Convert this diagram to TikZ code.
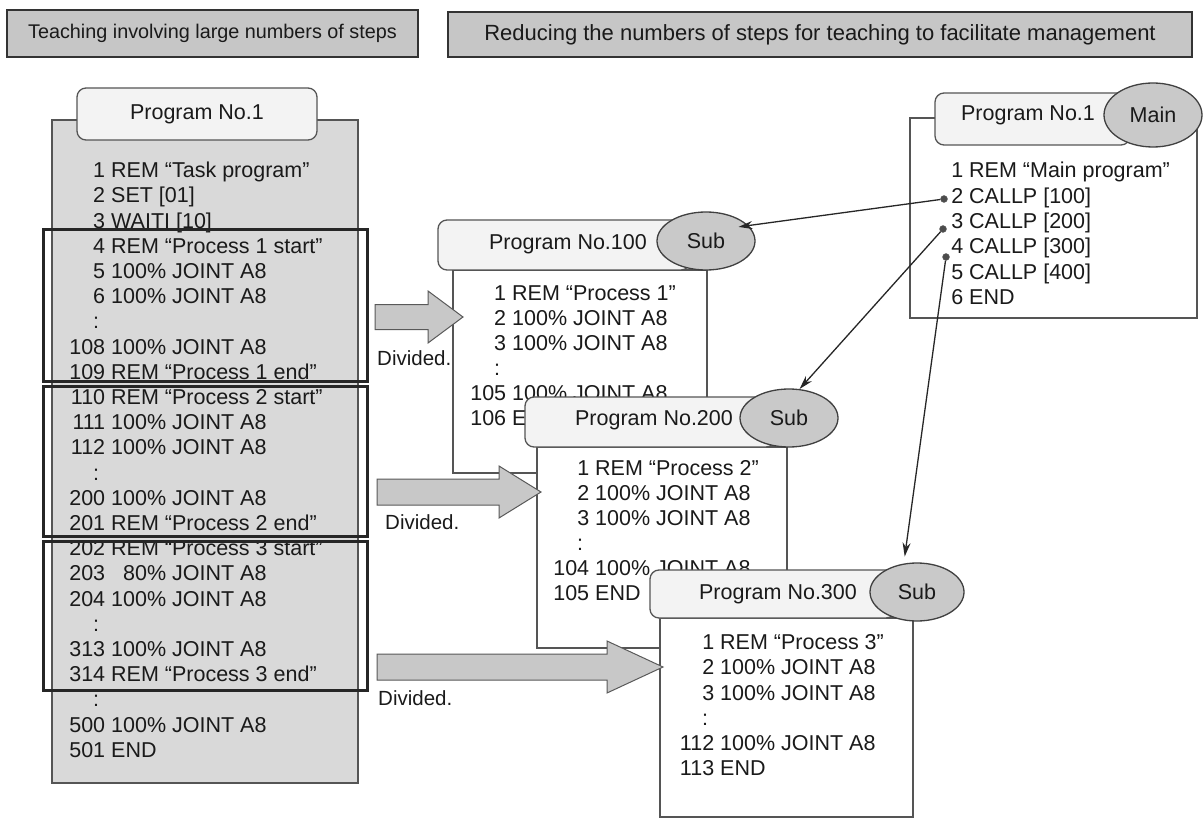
\documentclass[tikz,border=0pt]{standalone}
\usepackage{fontspec}
\setmainfont{Liberation Sans}
\usetikzlibrary{arrows.meta,shapes.geometric}

\definecolor{ink}{HTML}{1A1A1A}
\definecolor{edge}{HTML}{555555}
\definecolor{hdrfill}{HTML}{C6C6C6}
\definecolor{panelfill}{HTML}{D9D9D9}
\definecolor{tabfill}{HTML}{F3F3F3}
\definecolor{ellfill}{HTML}{C9C9C9}
\definecolor{arrfill}{HTML}{C8C8C8}

% colon placeholder line in a listing
\newcommand\cc{:\hspace{6pt}}
% one listing column: name prefix, left x, first baseline, line step, lines
\newcommand\codecolumn[5]{%
  \foreach [count=\k] \cnum/\ctext in {#5}
    \node[code, anchor=base west] (#1\k) at (#2, {#3+#4*(\k-1)})
      {\makebox[36pt][r]{\cnum}\hspace{6pt}\ctext};
}

\begin{document}
\begin{tikzpicture}[x=1pt,y=-1pt,
  code/.style={font=\fontsize{21.5}{25}\selectfont, text=ink, inner sep=0pt},
  title/.style={font=\fontsize{21.5}{25}\selectfont, text=ink, inner sep=0pt, anchor=base},
  hdr/.style={draw=black!80, line width=1.6pt, fill=hdrfill, text=ink, inner sep=0pt},
  panel/.style={draw=edge, line width=1.3pt, inner sep=0pt},
  tabbox/.style={draw=edge, line width=1.3pt, fill=tabfill, rounded corners=9pt, inner sep=0pt},
  subell/.style={ellipse, draw=black!75, line width=1.3pt, fill=ellfill, inner sep=0pt,
    text=ink, font=\fontsize{21.5}{25}\selectfont},
  hilite/.style={draw=black!85, line width=3pt, inner sep=0pt},
  blockarr/.style={draw=black!65, line width=1pt, fill=arrfill},
  divlabel/.style={font=\fontsize{20.5}{24}\selectfont, text=ink, inner sep=0pt, anchor=base west},
  calldot/.style={circle, fill=black!70, draw=black!60, minimum size=7pt, inner sep=0pt},
  call/.style={draw=black!85, line width=1.3pt, -{Stealth[length=14pt,width=8pt]}}
]
\useasboundingbox (0,0) rectangle (1204,818);

% ---- headings
\node[hdr, minimum width=411, minimum height=47, font=\fontsize{19.8}{23}\selectfont]
  (head1) at (212.5,33.5) {Teaching involving large numbers of steps};
\node[hdr, minimum width=744, minimum height=45, font=\fontsize{22}{26}\selectfont]
  (head2) at (820,34.5) {Reducing the numbers of steps for teaching to facilitate management};

% ---- long task program (left)
\node[panel, fill=panelfill, minimum width=306, minimum height=663] (body1) at (205,451.5) {};
\node[tabbox, minimum width=240, minimum height=52] (tab1) at (197,114) {};
\node[title] (title1) at (197,119.7) {Program No.1};
\codecolumn{L}{69}{177.7}{25.2}{
  1/REM “Task program”,
  2/SET [01],
  3/WAITI [10],
  4/REM “Process 1 start”,
  5/100\% JOINT A8,
  6/100\% JOINT A8,
  \cc/{},
  108/100\% JOINT A8,
  109/REM “Process 1 end”,
  110/REM “Process 2 start”,
  111/100\% JOINT A8,
  112/100\% JOINT A8,
  \cc/{},
  200/100\% JOINT A8,
  201/REM “Process 2 end”,
  202/REM “Process 3 start”,
  203/\phantom{1}80\% JOINT A8,
  204/100\% JOINT A8,
  \cc/{},
  313/100\% JOINT A8,
  314/REM “Process 3 end”,
  \cc/{},
  500/100\% JOINT A8,
  501/END}
\node[hilite, minimum width=324, minimum height=151] (blk1) at (205,305.5) {};
\node[hilite, minimum width=324, minimum height=150] (blk2) at (205,461) {};
\node[hilite, minimum width=324, minimum height=149] (blk3) at (205,615.5) {};

% ---- main program
\node[panel, fill=white, minimum width=287, minimum height=200] (mbody) at (1053.5,218) {};
\node[tabbox, minimum width=195, minimum height=52] (mtab) at (1032.5,119) {};
\node[title] (mtitle) at (1028,120.7) {Program No.1};
\node[subell, minimum width=98, minimum height=64] (main) at (1153,115) {Main};
\codecolumn{M}{927}{177.7}{25.4}{
  1/REM “Main program”,
  2/CALLP [100],
  3/CALLP [200],
  4/CALLP [300],
  5/CALLP [400],
  6/END}

% ---- sub program 100
\node[panel, fill=white, minimum width=254, minimum height=203] (b100) at (580,371.5) {};
\node[tabbox, minimum width=252, minimum height=50] (t100) at (564,245) {};
\node[title] (n100) at (568,249.7) {Program No.100};
\node[subell, minimum width=98, minimum height=58] (s100) at (706,241) {Sub};
\codecolumn{A}{470}{300.7}{25}{
  1/REM “Process 1”,
  2/100\% JOINT A8,
  3/100\% JOINT A8,
  \cc/{},
  105/100\% JOINT A8,
  106/END}

% ---- sub program 200
\node[panel, fill=white, minimum width=250, minimum height=201] (b200) at (662,547.5) {};
\node[tabbox, minimum width=250, minimum height=50] (t200) at (650,422) {};
\node[title] (n200) at (654,425.7) {Program No.200};
\node[subell, minimum width=98, minimum height=58] (s200) at (789,418) {Sub};
\codecolumn{B}{553}{475.7}{25}{
  1/REM “Process 2”,
  2/100\% JOINT A8,
  3/100\% JOINT A8,
  \cc/{},
  104/100\% JOINT A8,
  105/END}

% ---- sub program 300
\node[panel, fill=white, minimum width=253, minimum height=199] (b300) at (786.5,717.5) {};
\node[tabbox, minimum width=245, minimum height=48] (t300) at (772.5,594) {};
\node[title] (n300) at (778,599.7) {Program No.300};
\node[subell, minimum width=94, minimum height=58] (s300) at (917,592) {Sub};
\codecolumn{C}{678}{649.7}{25.2}{
  1/REM “Process 3”,
  2/100\% JOINT A8,
  3/100\% JOINT A8,
  \cc/{},
  112/100\% JOINT A8,
  113/END}

% ---- "Divided." block arrows
\filldraw[blockarr] (375,304.5) -- (428,304.5) -- (428,291) -- (463,317)
  -- (428,343) -- (428,329.5) -- (375,329.5) -- cycle;
\filldraw[blockarr] (377,479) -- (499,479) -- (499,466) -- (541,492)
  -- (499,518) -- (499,505) -- (377,505) -- cycle;
\filldraw[blockarr] (377,654) -- (607,654) -- (607,641) -- (663,667)
  -- (607,693) -- (607,680) -- (377,680) -- cycle;
\node[divlabel] (div1) at (377,365.7) {Divided.};
\node[divlabel] (div2) at (385,529.7) {Divided.};
\node[divlabel] (div3) at (378,705.7) {Divided.};

% ---- calls from the main program
\node[calldot] (d1) at (944,199) {};
\node[calldot] (d2) at (943,229) {};
\node[calldot] (d3) at (946,257) {};
\draw[call, shorten >=-10pt] (d1) -- (s100.20);
\draw[call] (d2) -- (s200.70);
\draw[call, shorten >=7pt] (d3) -- (s300.115);
\end{tikzpicture}
\end{document}
